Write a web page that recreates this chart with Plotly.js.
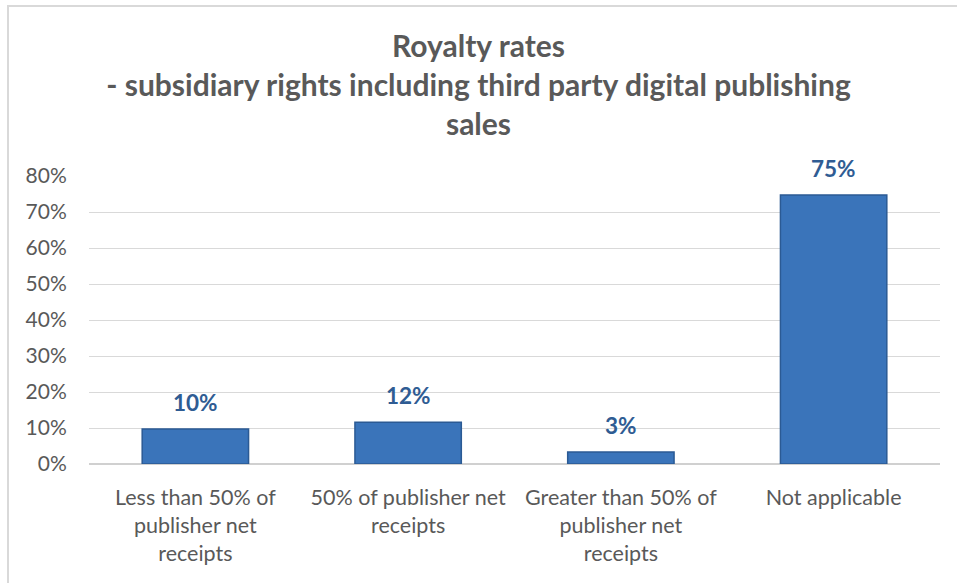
<!DOCTYPE html>
<html>
<head>
<meta charset="utf-8">
<script src="https://cdn.plot.ly/plotly-3.0.1.min.js"></script>
<style>
html,body{margin:0;padding:0;background:#fff;}
#chart{position:absolute;left:0;top:0;width:957px;height:583px;}
#frame{position:absolute;left:7px;top:5px;width:960px;height:600px;border-left:2px solid #D9D9D9;border-top:2px solid #D9D9D9;pointer-events:none;}
</style>
</head>
<body>
<div id="chart"></div>
<div id="frame"></div>
<script>
var categories = [
  "Less than 50% of<br>publisher net<br>receipts",
  "50% of publisher net<br>receipts",
  "Greater than 50% of<br>publisher net<br>receipts",
  "Not applicable"
];
var values = [0.097, 0.116, 0.033, 0.747];
var tickValues = [0, 0.1, 0.2, 0.3, 0.4, 0.5, 0.6, 0.7, 0.8];
var tickLabels = ["0%", "10%", "20%", "30%", "40%", "50%", "60%", "70%", "80%"];

var font = "Lato, Carlito, 'Open Sans', sans-serif";

var trace = {
  type: "bar",
  x: categories,
  y: values,
  marker: {color: "#3A74BA", line: {color: "#2B5A94", width: 1.5}},
  hoverinfo: "none"
};

var annotations = values.map(function (v, i) {
  return {
    x: categories[i], y: v, xref: "x", yref: "y",
    text: "<b>" + Math.round(v * 100) + "%</b>",
    showarrow: false, yanchor: "bottom", yshift: 11,
    font: {family: font, size: 22.5, color: "#2F5C93"}
  };
});

var layout = {
  width: 957, height: 583,
  margin: {l: 89, r: 17, t: 176, b: 119},
  paper_bgcolor: "#fff", plot_bgcolor: "#fff",
  bargap: 0.5,
  showlegend: false,
  title: {
    text: "<b>Royalty rates<br>- subsidiary rights including third party digital publishing<br>sales</b>",
    x: 0.5, xanchor: "center", xref: "container",
    y: 0.902, yanchor: "middle", yref: "container",
    font: {family: font, size: 30, color: "#595959"}
  },
  xaxis: {
    type: "category",
    tickfont: {family: font, size: 21.5, color: "#595959"},
    showgrid: false, zeroline: false, showline: false,
    ticks: "outside", ticklen: 14, tickcolor: "rgba(0,0,0,0)"
  },
  yaxis: {
    range: [0, 0.8],
    tickvals: tickValues, ticktext: tickLabels,
    tickfont: {family: font, size: 21, color: "#595959"},
    showgrid: true, gridcolor: "#D9D9D9", gridwidth: 1,
    zeroline: true, zerolinecolor: "#D0D0D0", zerolinewidth: 2,
    showline: false, ticks: "outside", ticklen: 17, tickcolor: "rgba(0,0,0,0)",
    fixedrange: true
  },
  annotations: annotations
};

Plotly.newPlot("chart", [trace], layout, {displayModeBar: false, staticPlot: true});
</script>
</body>
</html>
